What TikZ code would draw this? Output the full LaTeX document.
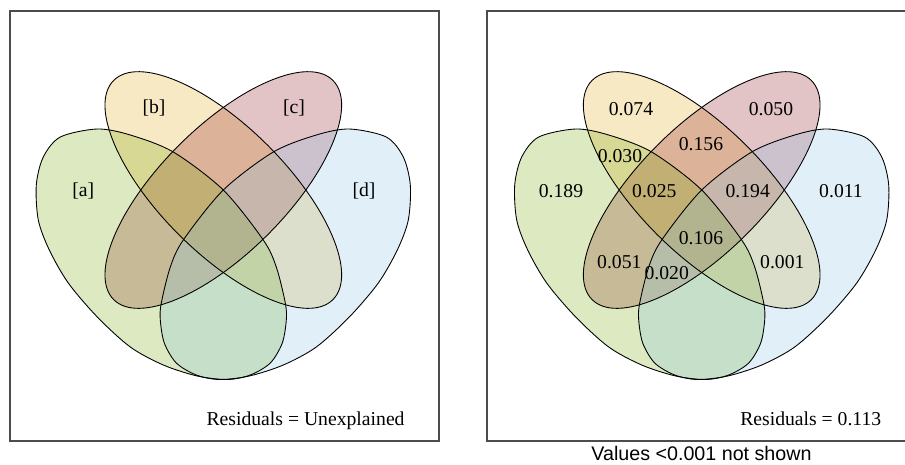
\documentclass[tikz,border=0pt]{standalone}
\usepackage{fontspec}
\setmainfont{Liberation Serif}
\newfontfamily\notefont{Liberation Sans}
\usepackage{tikz}
\usetikzlibrary{positioning}
\definecolor{colA}{RGB}{115,167,7}
\definecolor{colB}{RGB}{223,167,19}
\definecolor{colC}{RGB}{139,15,27}
\definecolor{colD}{RGB}{135,195,227}

\begin{document}
\begin{tikzpicture}[x=0.02cm,y=-0.02cm,every node/.style={font=\fontsize{11.2}{13}\selectfont},line width=0.5pt]
\tikzset{frame/.style={draw=black!70,line width=0.8pt},
  setfill/.style={fill=#1,fill opacity=0.25,draw=none},
  setline/.style={draw=black,line width=0.5pt},
  lab/.style={inner sep=0pt}}
\useasboundingbox (0,0) rectangle (905,464);

% ---------- frames ----------
\draw[frame] (10,11) rectangle (439,441);
\draw[frame] (487,11) rectangle (912,441);

% ---------- the four sets ----------
\foreach \cx in {223.3,701.7}{
\begin{scope}[shift={(\cx,190)}]
\fill[setfill=colB] (0,0) ellipse [x radius=155,y radius=63,rotate=-45];
\fill[setfill=colC] (0,0) ellipse [x radius=155,y radius=63,rotate=45];
\fill[setfill=colA] plot[smooth cycle] coordinates {(-126,-61) (-163,-53) (-180,-33) (-187,-5) (-185,30) (-174,60) (-155,93) (-126,127) (-93,157) (-60,175) (-26,186) (4,189.5) (27,185) (47,173) (59,153) (63,130) (62,113) (53,77) (40,50) (0,0) (-50,-38) (-93,-55)};
\begin{scope}[xscale=-1]
\fill[setfill=colD] plot[smooth cycle] coordinates {(-126,-61) (-163,-53) (-180,-33) (-187,-5) (-185,30) (-174,60) (-155,93) (-126,127) (-93,157) (-60,175) (-26,186) (4,189.5) (27,185) (47,173) (59,153) (63,130) (62,113) (53,77) (40,50) (0,0) (-50,-38) (-93,-55)};
\end{scope}

\draw[setline] plot[smooth cycle] coordinates {(-126,-61) (-163,-53) (-180,-33) (-187,-5) (-185,30) (-174,60) (-155,93) (-126,127) (-93,157) (-60,175) (-26,186) (4,189.5) (27,185) (47,173) (59,153) (63,130) (62,113) (53,77) (40,50) (0,0) (-50,-38) (-93,-55)};
\begin{scope}[xscale=-1]
\draw[setline] plot[smooth cycle] coordinates {(-126,-61) (-163,-53) (-180,-33) (-187,-5) (-185,30) (-174,60) (-155,93) (-126,127) (-93,157) (-60,175) (-26,186) (4,189.5) (27,185) (47,173) (59,153) (63,130) (62,113) (53,77) (40,50) (0,0) (-50,-38) (-93,-55)};
\end{scope}
\draw[setline] (0,0) ellipse [x radius=155,y radius=63,rotate=-45];
\draw[setline] (0,0) ellipse [x radius=155,y radius=63,rotate=45];
\end{scope}
}

% ---------- left panel labels ----------
\node[lab] (La) at (83.3,190.7) {[a]};
\node[lab] (Lb) at (154,108.3) {[b]};
\node[lab] (Lc) at (294,108.3) {[c]};
\node[lab] (Ld) at (364,190.7) {[d]};
\node[lab,anchor=base east] (ResL) at (405,425) {Residuals = Unexplained};

% ---------- right panel values ----------
\node[lab] (V074) at (631,109.3) {0.074};
\node[lab] (V050) at (771,109.3) {0.050};
\node[lab] (V156) at (701,144.3) {0.156};
\node[lab] (V030) at (620,156.5) {0.030};
\node[lab] (V189) at (561,191) {0.189};
\node[lab] (V025) at (654.3,191) {0.025};
\node[lab] (V194) at (747.7,191) {0.194};
\node[lab] (V011) at (841,191) {0.011};
\node[lab] (V106) at (701,237.7) {0.106};
\node[lab] (V051) at (619.3,261.7) {0.051};
\node[lab] (V020) at (666.7,273.3) {0.020};
\node[lab] (V001) at (782.3,261.7) {0.001};
\node[lab,anchor=base east] (ResR) at (881.7,425) {Residuals = 0.113};
\node[lab,anchor=base,font=\notefont\fontsize{11.2}{13}\selectfont] (Note) at (701.5,460) {Values <0.001 not shown};

\end{tikzpicture}
\end{document}
